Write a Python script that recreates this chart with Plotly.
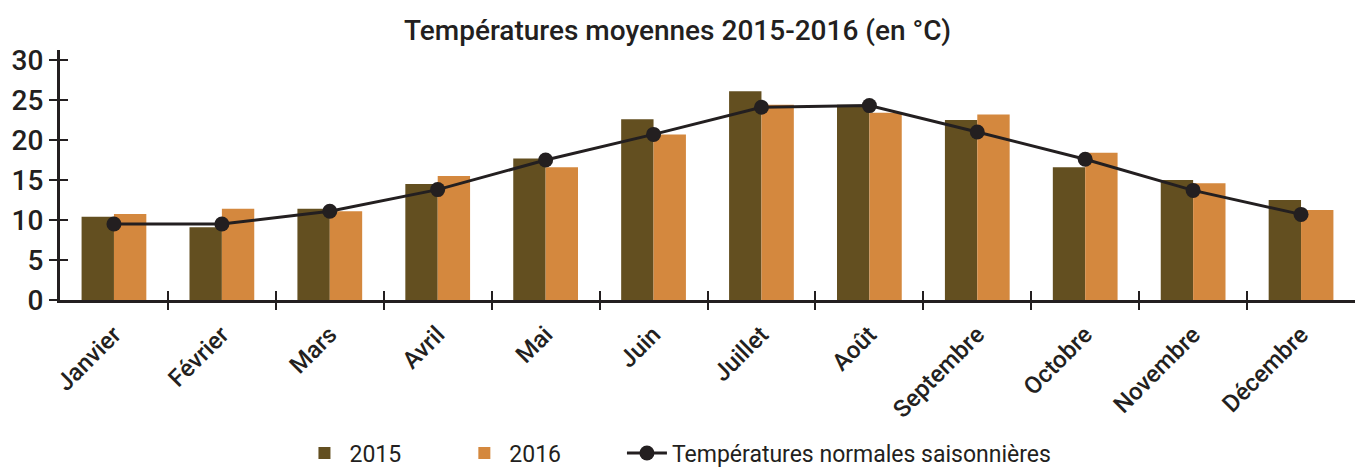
import plotly.graph_objects as go

mois = ["Janvier", "Février", "Mars", "Avril", "Mai", "Juin", "Juillet", "Août",
        "Septembre", "Octobre", "Novembre", "Décembre"]
t2015 = [10.4, 9.1, 11.4, 14.5, 17.7, 22.6, 26.1, 24.4, 22.5, 16.6, 15.0, 12.5]
t2016 = [10.75, 11.4, 11.1, 15.5, 16.6, 20.7, 24.4, 23.4, 23.2, 18.4, 14.6, 11.25]
normales = [9.5, 9.5, 11.1, 13.8, 17.5, 20.7, 24.1, 24.3, 21.0, 17.6, 13.7, 10.7]
y_ticks = [0, 5, 10, 15, 20, 25, 30]

FONT = "Roboto, Liberation Sans, Arial"
INK = "#231f20"

fig = go.Figure()
fig.add_trace(go.Bar(x=mois, y=t2015, name="2015", marker_color="#634f20",
                     marker_line_width=0, legend="legend"))
fig.add_trace(go.Bar(x=mois, y=t2016, name="2016", marker_color="#d4883e",
                     marker_line_width=0, legend="legend2"))
fig.add_trace(go.Scatter(x=mois, y=normales, name="Températures normales saisonnières",
                         mode="lines+markers",
                         line=dict(color=INK, width=3),
                         marker=dict(color=INK, size=15), legend="legend3"))
# helper traces for the overlay axes (tick marks crossing the axes)
fig.add_trace(go.Scatter(x=[None], y=[None], xaxis="x2", yaxis="y2",
                         showlegend=False, hoverinfo="skip"))
fig.add_trace(go.Scatter(x=[None], y=[None], xaxis="x3", yaxis="y2",
                         showlegend=False, hoverinfo="skip"))

leg_common = dict(orientation="h", xanchor="left", xref="container",
                  yref="container", y=0.034, yanchor="middle",
                  font=dict(family=FONT, size=23, color=INK), itemwidth=40,
                  bgcolor="rgba(0,0,0,0)")

n = len(mois)
bounds = [i + 0.5 for i in range(n - 1)]
fig.update_layout(
    width=1355, height=469,
    paper_bgcolor="white", plot_bgcolor="white",
    margin=dict(l=60, r=0, t=50, b=169),
    barmode="group", bargap=0.4, bargroupgap=0,
    title=dict(text="Températures moyennes 2015-2016 (en °C)",
               x=0.5, xanchor="center", y=0.935, yanchor="middle",
               font=dict(family=FONT, size=28, color=INK, weight=500)),
    font=dict(family=FONT, color=INK),
    legend=dict(x=0.221, **leg_common),
    legend2=dict(x=0.339, **leg_common),
    legend3=dict(x=0.459, **leg_common),
    xaxis=dict(range=[-0.5, n - 0.5], showline=True, linecolor=INK, linewidth=3,
               ticks="", tickangle=-45,
               tickfont=dict(family=FONT, size=24, color=INK, weight=500),
               ticklabelstandoff=8,
               showgrid=False, zeroline=False, automargin=False),
    yaxis=dict(range=[0, 31.25], tickvals=y_ticks, showline=True, linecolor=INK,
               linewidth=3, ticks="outside", ticklen=8, tickwidth=2, tickcolor=INK,
               tickfont=dict(family=FONT, size=28, color=INK, weight=500),
               showgrid=False, zeroline=False, automargin=False),
    xaxis2=dict(overlaying="x", range=[-0.5, n - 0.5], tickvals=bounds,
                ticks="inside", ticklen=9, tickwidth=2, tickcolor=INK,
                showticklabels=False, showgrid=False, zeroline=False, showline=False),
    xaxis3=dict(overlaying="x", range=[-0.5, n - 0.5], tickvals=bounds,
                ticks="outside", ticklen=9, tickwidth=2, tickcolor=INK,
                showticklabels=False, showgrid=False, zeroline=False, showline=False),
    yaxis2=dict(overlaying="y", range=[0, 31.25], tickvals=y_ticks,
                ticks="inside", ticklen=8, tickwidth=2, tickcolor=INK,
                showticklabels=False, showgrid=False, zeroline=False, showline=False),
)

fig.write_html("out.html", config={"displayModeBar": False},
               post_script="document.body.style.margin='0';")
